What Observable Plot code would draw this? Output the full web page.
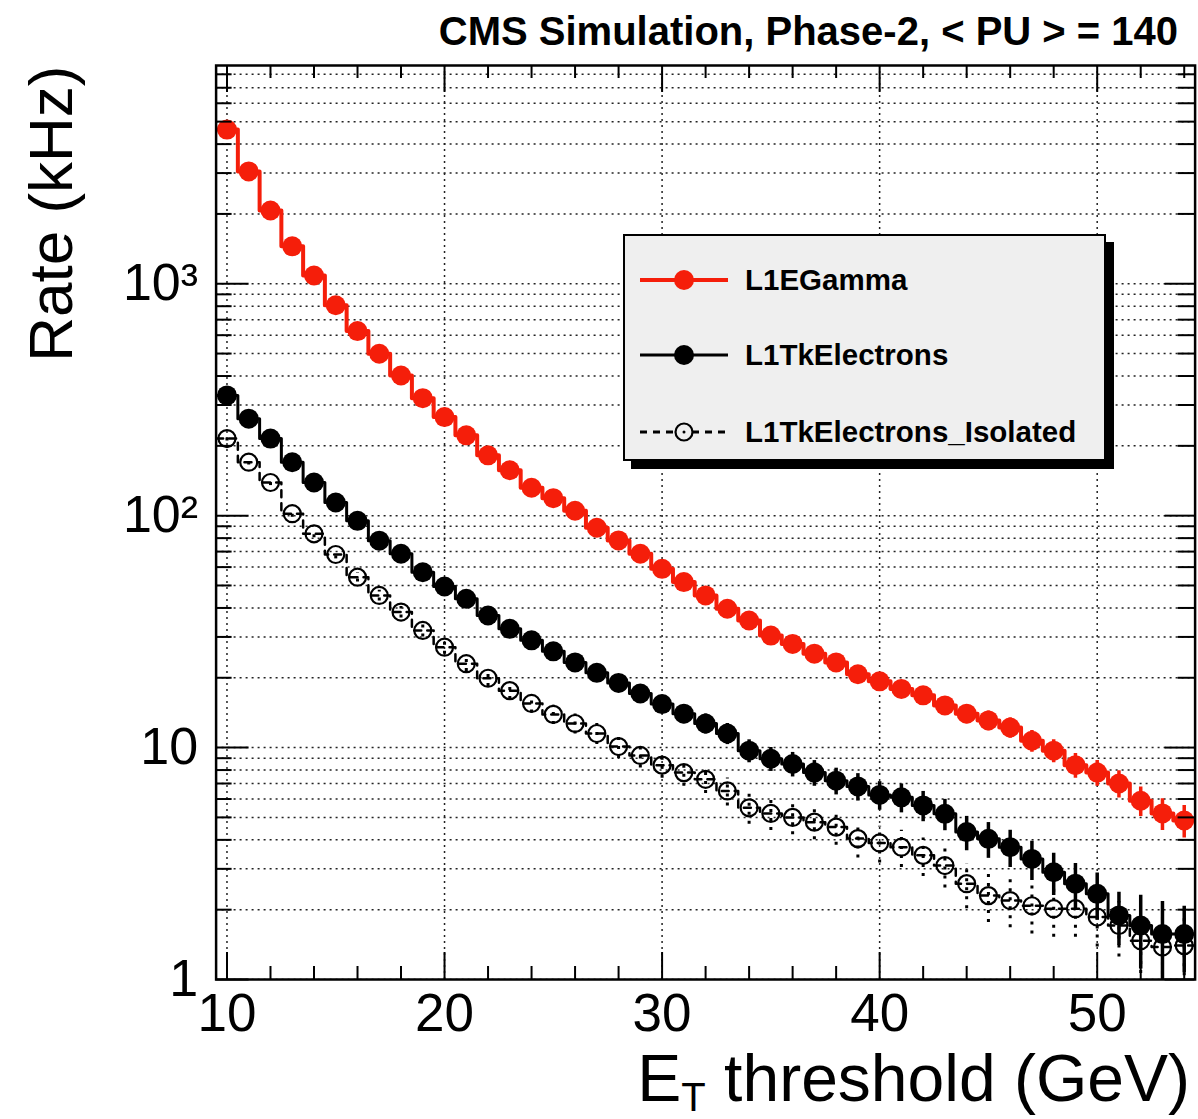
<!DOCTYPE html>
<html><head><meta charset="utf-8">
<script src="https://cdn.jsdelivr.net/npm/d3@7"></script>
<script src="https://cdn.jsdelivr.net/npm/@observablehq/plot@0.6"></script>
<style>
body{margin:0;background:#fff;font-family:"Liberation Sans",Arial,Helvetica,sans-serif;}
#wrap{position:relative;width:1198px;height:1119px;overflow:hidden;}
#title{position:absolute;right:20px;top:11px;font-weight:bold;font-size:40px;line-height:40px;white-space:nowrap;}
#xlabel{position:absolute;right:8px;top:1045px;font-size:66px;line-height:66px;white-space:nowrap;}
#xlabel sub{font-size:40px;vertical-align:-10px;line-height:0;}
#legend{position:absolute;left:623px;top:234px;width:479px;height:223px;background:#efefef;border:2px solid #000;box-shadow:8px 8px 0 #000;}
.row{position:absolute;left:0;height:40px;display:flex;align-items:center;font-weight:bold;font-size:29.5px;}
.row svg{margin-left:15px;margin-right:17px;}
</style></head>
<body>
<div id="wrap">
  <div id="chart"></div>
  <div id="title">CMS Simulation, Phase-2, &lt; PU &gt; = 140</div>
  <div id="xlabel">E<sub>T</sub> threshold (GeV)</div>
  <div id="legend">
    <div class="row" style="top:24px"><svg width="88" height="30"><line x1="0" y1="15" x2="88" y2="15" stroke="#f51e0a" stroke-width="4"/><circle cx="44" cy="15" r="10" fill="#f51e0a"/></svg><span>L1EGamma</span></div>
    <div class="row" style="top:99px"><svg width="88" height="30"><line x1="0" y1="15" x2="88" y2="15" stroke="#000" stroke-width="3"/><circle cx="44" cy="15" r="10" fill="#000"/></svg><span>L1TkElectrons</span></div>
    <div class="row" style="top:176px"><svg width="88" height="30"><line x1="0" y1="15" x2="88" y2="15" stroke="#000" stroke-width="3" stroke-dasharray="7,6"/><circle cx="44" cy="15" r="8.5" fill="#efefef" stroke="#000" stroke-width="2.2"/><circle cx="44" cy="15" r="1.5" fill="#000"/></svg><span>L1TkElectrons_Isolated</span></div>
  </div>
</div>
<script>
// ---- data ----
const thresholds = [10,11,12,13,14,15,16,17,18,19,20,21,22,23,24,25,26,27,28,29,30,31,32,33,34,35,36,37,38,39,40,41,42,43,44,45,46,47,48,49,50,51,52,53,54];

const egammaRate = [4620,3050,2070,1450,1085,808,625,499,402,321,266,222,182,157,132,119,105,88.7,78.2,68.5,59,51.7,45.3,39.7,35.3,30.4,28,25.4,23.3,20.7,19.3,17.9,16.8,15.2,14.0,13.1,12.2,10.7,9.7,8.4,7.8,7.0,5.9,5.2,4.85];
const egammaErr  = [24,19.5,16.1,13.5,11.6,10,8.8,7.9,7.1,6.3,5.8,5.3,4.8,4.4,4.1,3.9,3.6,3.3,3.1,2.9,2.7,2.5,2.4,2.2,2.1,1.95,1.87,1.78,1.71,1.61,1.55,1.5,1.45,1.38,1.32,1.28,1.23,1.16,1.1,1.02,0.99,0.94,0.86,0.81,0.78];

const tkEleRate = [330,262,215,170,139,114,95,78,68.5,57,49.5,43.8,37.1,32.5,29,26,23.3,21.0,19.0,17.1,15.4,14.0,12.7,11.5,9.7,8.95,8.5,7.8,7.2,6.8,6.25,6.1,5.63,5.18,4.32,4.04,3.72,3.31,2.90,2.59,2.34,1.89,1.71,1.57,1.57];
const tkEleErr  = [6.4,5.7,5.2,4.6,4.2,3.8,3.4,3.1,2.9,2.7,2.5,2.3,2.15,2.0,1.9,1.8,1.7,1.62,1.54,1.46,1.39,1.32,1.26,1.2,1.1,1.06,1.03,0.99,0.95,0.92,0.88,0.87,0.84,0.8,0.73,0.71,0.68,0.64,0.6,0.57,0.54,0.49,0.6,0.6,0.5];

const tkIsoRate = [215,170,139,102,83.5,68,54.3,45.3,38.4,32,27.1,23,19.9,17.6,15.5,13.9,12.7,11.5,10.1,9.25,8.4,7.8,7.3,6.5,5.5,5.2,5.0,4.77,4.54,4.05,3.88,3.72,3.43,3.10,2.59,2.30,2.19,2.08,2.02,2.02,1.86,1.71,1.47,1.38,1.40];
const tkIsoErr  = [5.2,4.6,4.2,3.6,3.2,2.9,2.6,2.4,2.2,2.0,1.84,1.7,1.58,1.48,1.39,1.32,1.26,1.2,1.12,1.08,1.02,0.99,0.96,0.9,0.83,0.81,0.79,0.77,0.75,0.71,0.7,0.68,0.65,0.62,0.57,0.54,0.52,0.51,0.5,0.5,0.48,0.46,0.5,0.5,0.45];

const xMajorTicks = [10,20,30,40,50];
const xMinorTicks = [12,14,16,18,22,24,26,28,32,34,36,38,42,44,46,48,52,54];
const yMajorTicks = [1,10,100,1000];
const yMinorTicks = [2,3,4,5,6,7,8,9,20,30,40,50,60,70,80,90,200,300,400,500,600,700,800,900,2000,3000,4000,5000,6000,7000,8000];
const yTickLabels = {1:"1",10:"10",100:"10²",1000:"10³"};

// ---- layout ----
const W = 1198, H = 1119;
const mL = 215.6, mT = 65, mR = 3.4, mB = 140;
const innerW = W - mL - mR, innerH = H - mT - mB;
const RED = "#f51e0a";

const rows = (vals, errs) => thresholds.map((x, i) => ({x, v: vals[i], e: errs[i]}));
const steps = (rs) => rs.flatMap(d => [{x: d.x - 0.5, v: d.v}, {x: d.x + 0.5, v: d.v}]);

const eg = rows(egammaRate, egammaErr);
const tk = rows(tkEleRate, tkEleErr);
const iso = rows(tkIsoRate, tkIsoErr);

const gridStyle = {stroke: "#222", strokeWidth: 1.5, strokeDasharray: "2,4"};
const lo = d => Math.max(d.v - d.e, 0.5);
const hi = d => d.v + d.e;

const chart = Plot.plot({
  width: W, height: H,
  marginLeft: mL, marginRight: mR, marginTop: mT, marginBottom: mB,
  x: {domain: [9.5, 54.5]},
  y: {type: "log", domain: [1, 8730]},
  style: {fontFamily: "'Liberation Sans', Arial, Helvetica, sans-serif", background: "white", color: "#000"},
  marks: [
    // grid
    Plot.ruleX(xMajorTicks, {x: d => d, ...gridStyle}),
    Plot.ruleY(yMajorTicks.concat(yMinorTicks), {y: d => d, ...gridStyle, clip: true}),
    // L1EGamma
    Plot.line(steps(eg), {x: "x", y: "v", stroke: RED, strokeWidth: 4, clip: true}),
    Plot.ruleX(eg, {x: "x", y1: lo, y2: hi, stroke: RED, strokeWidth: 3.5, clip: true}),
    Plot.dot(eg, {x: "x", y: "v", r: 10, fill: RED, stroke: "none"}),
    // L1TkElectrons
    Plot.line(steps(tk), {x: "x", y: "v", stroke: "#000", strokeWidth: 3, clip: true}),
    Plot.ruleX(tk, {x: "x", y1: lo, y2: hi, stroke: "#000", strokeWidth: 3.5, clip: true}),
    Plot.dot(tk, {x: "x", y: "v", r: 10, fill: "#000", stroke: "none"}),
    // L1TkElectrons_Isolated
    Plot.line(steps(iso), {x: "x", y: "v", stroke: "#000", strokeWidth: 2.5, strokeDasharray: "7,6", clip: true}),
    Plot.ruleX(iso, {x: "x", y1: lo, y2: hi, stroke: "#000", strokeWidth: 3, strokeDasharray: "3,6", clip: true}),
    Plot.dot(iso, {x: "x", y: "v", r: 8.5, fill: "none", stroke: "#000", strokeWidth: 2.2}),
    // frame
    Plot.frame({stroke: "#000", strokeWidth: 2.5}),
    // inside ticks: x bottom/top
    Plot.ruleX(xMajorTicks, {x: d => d, insetTop: innerH - 27, stroke: "#000", strokeWidth: 2}),
    Plot.ruleX(xMinorTicks, {x: d => d, insetTop: innerH - 13, stroke: "#000", strokeWidth: 2}),
    Plot.ruleX(xMajorTicks, {x: d => d, insetBottom: innerH - 27, stroke: "#000", strokeWidth: 2}),
    Plot.ruleX(xMinorTicks, {x: d => d, insetBottom: innerH - 13, stroke: "#000", strokeWidth: 2}),
    // inside ticks: y left/right
    Plot.ruleY(yMajorTicks, {y: d => d, insetRight: innerW - 33, stroke: "#000", strokeWidth: 2}),
    Plot.ruleY(yMinorTicks, {y: d => d, insetRight: innerW - 16, stroke: "#000", strokeWidth: 2}),
    Plot.ruleY(yMajorTicks, {y: d => d, insetLeft: innerW - 30, stroke: "#000", strokeWidth: 2}),
    Plot.ruleY(yMinorTicks, {y: d => d, insetLeft: innerW - 17, stroke: "#000", strokeWidth: 2}),
    // axes labels
    Plot.axisX(xMajorTicks, {tickSize: 0, tickPadding: 14, fontSize: 53, label: null}),
    Plot.axisY(yMajorTicks, {tickSize: 0, tickPadding: 18, fontSize: 52, label: null, tickFormat: d => yTickLabels[d]}),
    Plot.text(["Rate (kHz)"], {frameAnchor: "top-left", dx: -188, rotate: -90, textAnchor: "end", fontSize: 62, fill: "#000"})
  ]
});
document.getElementById("chart").appendChild(chart);
</script>
</body></html>
